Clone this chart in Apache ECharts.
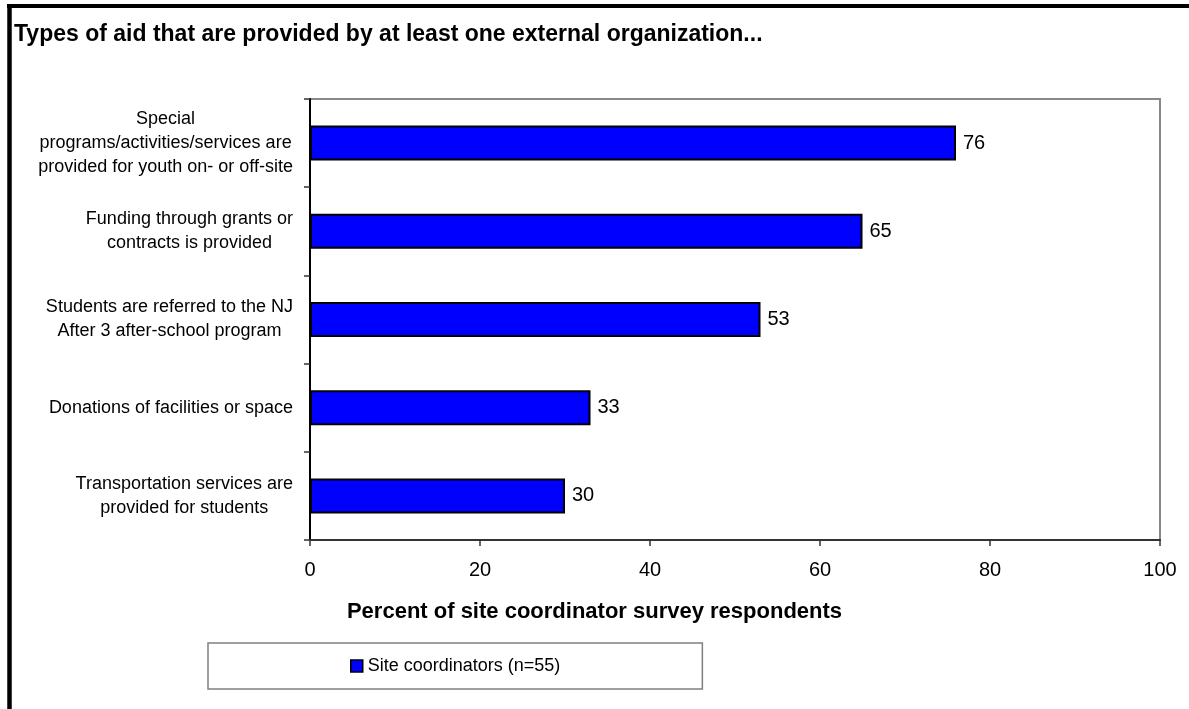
<!DOCTYPE html>
<html>
<head>
<meta charset="utf-8">
<style>
  html, body { margin: 0; padding: 0; background: #fff; }
  #chart { width: 1189px; height: 709px; }
</style>
<script src="https://cdn.jsdelivr.net/npm/echarts@6/dist/echarts.min.js"></script>
</head>
<body>
<div id="chart"></div>
<script>
// Aid types, listed top to bottom, each split into its display lines
const categories = [
  ['Special', 'programs/activities/services are', 'provided for youth on- or off-site'],
  ['Funding through grants or', 'contracts is provided'],
  ['Students are referred to the NJ', 'After 3 after-school program'],
  ['Donations of facilities or space'],
  ['Transportation services are', 'provided for students']
];
// Percent of site coordinators reporting each type of aid
const siteCoordinators = [76, 65, 53, 33, 30];
const xTicks = [0, 20, 40, 60, 80, 100];
const seriesName = 'Site coordinators (n=55)';
const chartTitle = 'Types of aid that are provided by at least one external organization...';
const xAxisTitle = 'Percent of site coordinator survey respondents';

const FONT = '"Liberation Sans", Arial, Helvetica, sans-serif';
const chart = echarts.init(document.getElementById('chart'), null, { renderer: 'canvas' });

const option = {
  animation: false,
  backgroundColor: '#ffffff',
  textStyle: { fontFamily: FONT, color: '#000' },
  title: [
    {
      text: chartTitle,
      left: 14, top: 23, padding: 0,
      textStyle: { fontFamily: FONT, fontSize: 23, fontWeight: 'bold', color: '#000' }
    },
    {
      text: xAxisTitle,
      left: 'center', top: 596,
      textStyle: { fontFamily: FONT, fontSize: 22, fontWeight: 'bold', color: '#000' }
    }
  ],
  graphic: [
    // outer frame: heavy rules along the top and left edges
    { type: 'line', shape: { x1: 7, y1: 6, x2: 1189, y2: 6 }, style: { stroke: '#000', lineWidth: 4 }, silent: true },
    { type: 'line', shape: { x1: 9.5, y1: 4, x2: 9.5, y2: 709 }, style: { stroke: '#000', lineWidth: 4.5 }, silent: true }
  ],
  legend: {
    data: [seriesName],
    left: 208, top: 643,
    orient: 'horizontal',
    padding: [14, 142, 14, 142],
    borderColor: '#808080', borderWidth: 1.5,
    backgroundColor: '#fff',
    itemWidth: 12, itemHeight: 12, itemGap: 6,
    icon: 'rect',
    itemStyle: { borderColor: '#000', borderWidth: 1.5 },
    textStyle: { fontFamily: FONT, fontSize: 18, color: '#000', padding: [2, 0, 0, 0] }
  },
  grid: {
    left: 310, right: 29, top: 99, bottom: 169,
    containLabel: false,
    show: true,
    borderColor: '#888', borderWidth: 2,
    backgroundColor: 'transparent'
  },
  xAxis: {
    type: 'value',
    min: xTicks[0], max: xTicks[xTicks.length - 1], interval: xTicks[1] - xTicks[0],
    axisLine: { show: true, onZero: false, lineStyle: { color: '#333', width: 2 } },
    axisTick: { show: true, length: 6, lineStyle: { color: '#333', width: 1.5 } },
    splitLine: { show: false },
    axisLabel: { fontFamily: FONT, fontSize: 20, color: '#000', margin: 20 }
  },
  yAxis: {
    type: 'category',
    inverse: true,
    data: categories.map(lines => lines.join('\n')),
    axisLine: { show: true, lineStyle: { color: '#000', width: 2 } },
    axisTick: { show: true, length: 6, alignWithLabel: false, lineStyle: { color: '#333', width: 1.5 } },
    splitLine: { show: false },
    axisLabel: {
      margin: 17,
      interval: 0,
      formatter: function (value) {
        return value.split('\n').map(l => '{c|' + l + '}').join('\n');
      },
      rich: {
        c: { fontFamily: FONT, fontSize: 18, lineHeight: 24, color: '#000', align: 'center' }
      }
    }
  },
  series: [
    {
      name: seriesName,
      type: 'bar',
      data: siteCoordinators,
      barWidth: 35,
      itemStyle: { color: '#0000ff', borderColor: '#000', borderWidth: 2 },
      label: {
        show: true,
        position: 'right',
        distance: 7,
        fontFamily: FONT, fontSize: 20, color: '#000'
      }
    }
  ]
};

chart.setOption(option);
</script>
</body>
</html>
